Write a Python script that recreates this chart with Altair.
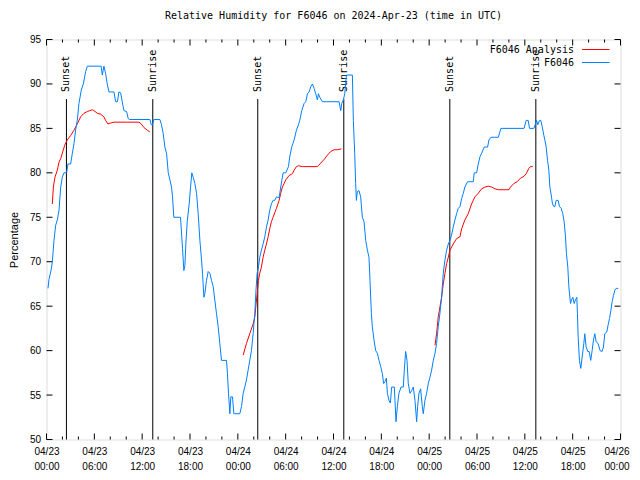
import altair as alt
import pandas as pd

TITLE = "Relative Humidity for F6046 on 2024-Apr-23 (time in UTC)"
FONT = "DejaVu Sans Mono"
RED = "#ff0000"
BLUE = "#0080ff"

# hours since 2024-04-23 00:00 UTC
obs_hours = [0.19, 0.31, 0.61, 0.73, 0.94, 1.15, 1.36, 1.57, 1.78, 1.98, 2.19, 2.53, 2.69, 3.03, 3.24,
             3.45, 3.65, 3.86, 4.07, 4.36, 4.62, 4.91, 5.12, 6.85, 7.0, 7.2, 7.41, 7.62, 7.83, 8.46,
             8.67, 8.9, 9.08, 9.3, 9.5, 9.71, 10.05, 10.25, 10.38, 12.97, 13.14, 13.3, 13.47, 14.22, 14.43,
             14.64, 14.85, 15.06, 15.27, 15.48, 15.68, 15.81, 15.97, 16.81, 16.94, 17.06, 17.23, 17.36, 17.48, 17.65,
             17.9, 18.07, 18.23, 18.4, 18.61, 18.82, 19.03, 19.24, 19.45, 19.57, 19.74, 19.86, 20.07, 20.28, 20.49,
             20.7, 20.91, 21.11, 21.32, 21.53, 21.74, 21.95, 22.58, 22.7, 22.83, 23.0, 23.12, 23.33, 23.5, 24.25,
             24.46, 24.67, 24.87, 25.08, 25.29, 25.5, 25.71, 25.92, 26.13, 26.25, 26.42, 26.59, 26.75, 26.96, 27.17,
             27.38, 27.59, 27.8, 28.0, 28.21, 28.42, 28.63, 28.84, 29.18, 29.38, 29.68, 30.01, 30.35, 30.51, 30.76,
             31.06, 31.35, 31.6, 31.77, 32.02, 32.31, 32.52, 32.73, 32.94, 33.15, 33.36, 33.56, 33.77, 33.98, 34.11,
             34.27, 34.61, 36.7, 36.91, 37.03, 37.24, 37.41, 37.62, 38.37, 38.49, 38.66, 38.78, 38.87, 38.99, 39.2,
             39.41, 39.62, 39.83, 40.04, 40.25, 40.45, 40.58, 40.75, 40.87, 41.08, 41.29, 41.5, 41.71, 41.92, 42.13,
             42.29, 42.45, 42.63, 42.76, 42.96, 43.13, 43.3, 43.63, 43.71, 43.84, 44.01, 44.21, 44.47, 44.76, 44.88,
             45.05, 45.22, 45.38, 45.59, 45.8, 46.01, 46.22, 46.43, 46.55, 46.72, 46.93, 47.14, 47.26, 47.47, 47.68,
             47.89, 48.1, 48.31, 48.52, 48.73, 48.93, 49.14, 49.35, 49.56, 49.77, 49.98, 50.19, 50.4, 50.61, 50.81,
             51.02, 51.23, 51.44, 51.65, 51.86, 52.07, 52.28, 52.48, 52.82, 53.53, 53.65, 53.95, 54.16, 54.37, 54.58,
             54.91, 55.33, 55.5, 55.75, 56.67, 57.0, 59.9, 60.17, 60.42, 60.59, 61.13, 61.34, 61.47, 61.63, 61.84,
             62.0, 62.18, 62.39, 62.51, 62.68, 62.85, 63.01, 63.14, 63.31, 63.47, 63.64, 63.76, 63.93, 64.18, 64.35,
             64.56, 64.76, 64.93, 65.1, 65.22, 65.39, 65.52, 65.73, 65.85, 66.02, 66.19, 66.35, 66.52, 66.6, 66.69,
             66.85, 67.02, 67.19, 67.4, 67.52, 67.69, 67.9, 68.07, 68.27, 68.44, 68.61, 68.78, 68.94, 69.19, 69.44,
             69.69, 69.86, 70.03, 70.28, 70.45, 70.62, 70.79, 70.95, 71.12, 71.29, 71.46, 71.71]
obs_rh = [67, 68, 69.2, 70, 72.4, 74.1, 74.7, 75.8, 78.4, 79.5, 80, 80, 81, 81, 82.2,
          83.3, 84.8, 85.9, 87.8, 89.3, 90, 91.4, 92, 92, 91, 92, 91.2, 90, 89.1, 89.1,
          88, 88, 89.1, 89, 88, 87, 86.9, 86.1, 86, 86, 85.4, 85.4, 86, 86, 85.4,
          84.4, 82.9, 82.2, 80, 79.2, 78.4, 77.3, 75, 75, 73.2, 71.5, 69, 69.6, 72, 74.5,
          76.5, 78.4, 80, 79.5, 78.8, 77.7, 75.4, 72.4, 70.2, 68.7, 66, 66.4, 67.9, 68.9, 68.7,
          67.9, 67.2, 65.7, 64.2, 62.7, 60.8, 58.9, 58.9, 57.4, 55.2, 52.9, 54.8, 54.8, 52.9, 52.9,
          53.7, 55.2, 55.9, 56.7, 57.8, 58.9, 60, 61.9, 64.2, 66.4, 68.7, 69.4, 70.5, 71.3, 72,
          72.8, 73.9, 74.7, 75.8, 76.5, 76.9, 76.9, 77.3, 77.2, 78.4, 80, 80, 80.7, 81.8, 82.9,
          83.7, 84.8, 85.4, 85.9, 87.0, 87.8, 88, 88.9, 89.1, 89.7, 90, 89.5, 88.9, 88.2, 88.9,
          88.5, 88, 88, 87.0, 87.8, 88.2, 88.9, 91, 91, 85.9, 82.2, 78.8, 76.9, 77.9, 78,
          77.3, 75, 74.5, 72.4, 71.3, 70.5, 67.9, 64.2, 62.7, 61.2, 60, 59.7, 58.9, 58.2, 57.4,
          56.3, 56.5, 56.9, 55.2, 54.4, 54.1, 55.9, 55.9, 54.4, 52, 53.7, 55.2, 55.9, 55.9, 57.8,
          59.9, 58.9, 56.3, 55.2, 55.5, 55.9, 54.4, 52, 53.7, 55.2, 55.7, 53.7, 52.9, 54.4, 55.2,
          56.3, 57.0, 57.8, 58.9, 59.7, 60.8, 62.7, 64.2, 66, 68.7, 70.2, 71.3, 72, 72.4, 73,
          73.9, 74.7, 75.4, 76, 76.2, 77.1, 77.7, 78.4, 79.0, 79.0, 80, 80, 81, 81.8, 82.2,
          82.9, 82.9, 83.7, 84, 84, 85, 85, 85.9, 85.9, 85, 85, 85.5, 85.9, 85.4, 85.9,
          85.9, 85.2, 84.2, 83.7, 82.9, 81.4, 80.3, 78.4, 77.5, 76.5, 76.2, 76.2, 76.9, 76.9, 76.2,
          76, 75.4, 74.5, 72.8, 70.9, 69.4, 67.2, 65.3, 65.7, 66, 65.3, 65.7, 66, 64.2, 61.5,
          58.9, 58, 59.3, 60.8, 61.9, 60.4, 59.9, 59.9, 58.9, 60, 61.2, 61.9, 61, 60.8, 60,
          59.9, 60.4, 61.9, 62.1, 62.9, 63.6, 64.5, 65.5, 66.2, 66.8, 67, 67]

# analysis runs (one per day)
ana_hours_d1 = [0.73, 0.86, 1.06, 1.36, 1.57, 1.78, 1.98, 2.28, 2.61, 3.03, 3.45, 3.86, 4.28, 4.7, 5.12,
                5.45, 5.74, 5.95, 6.37, 6.79, 7.2, 7.41, 7.71, 8.04, 8.46, 10.13, 11.59, 11.89, 12.22, 12.64, 12.97]
ana_rh_d1 = [76.5, 78.4, 79.5, 80.3, 81.2, 81.6, 82.2, 83.1, 83.7, 84.2, 84.8, 85.5, 86.3, 86.7, 86.9,
             87.0, 87.1, 87.0, 86.7, 86.6, 86.3, 85.9, 85.5, 85.6, 85.7, 85.7, 85.7, 85.5, 85.1, 84.8, 84.6]
ana_hours_d2 = [24.67, 25.08, 25.5, 25.92, 26.13, 26.25, 26.42, 26.59, 26.75, 26.96, 27.17, 27.38, 27.59, 27.8,
                28.0, 28.21, 28.42, 28.63, 28.84, 29.18, 29.38, 29.59, 30.01, 30.43, 30.85, 31.06, 31.35, 31.6,
                32.1, 32.94, 33.98, 34.4, 34.82, 35.24, 35.65, 36.07, 36.49, 36.99]
ana_rh_d2 = [59.5, 60.8, 61.9, 63.0, 63.8, 64.9, 66.4, 67.9, 68.7, 69.4, 70.5, 71.3, 72.0, 72.8,
             73.7, 74.5, 75.0, 75.5, 76.0, 76.9, 77.7, 78.4, 79.2, 79.7, 79.9, 80.3, 80.7, 80.8,
             80.7, 80.7, 80.7, 81.1, 81.5, 82.0, 82.4, 82.6, 82.6, 82.7]
ana_hours_d3 = [48.73, 48.93, 49.14, 49.35, 49.56, 49.77, 49.98, 50.19, 50.4, 50.61, 51.02, 51.44, 51.86,
                52.07, 52.48, 52.9, 53.32, 53.74, 54.16, 54.58, 54.99, 55.41, 55.83, 56.25, 56.67, 57.5,
                58.0, 58.2, 58.62, 59.04, 59.46, 59.88, 60.17, 60.5, 60.71, 61.0]
ana_rh_d3 = [60.6, 61.9, 63.8, 64.9, 66.0, 67.5, 68.7, 69.8, 70.5, 71.3, 72.0, 72.6, 72.8,
             73.7, 74.7, 75.4, 76.5, 77.3, 77.7, 78.2, 78.4, 78.5, 78.4, 78.2, 78.1, 78.1,
             78.1, 78.4, 78.8, 79.0, 79.4, 79.6, 79.9, 80.5, 80.7, 80.7]

sun_hours = [2.5, 13.33, 26.5, 37.29, 50.59, 61.38]
sun_labels = ["Sunset", "Sunrise", "Sunset", "Sunrise", "Sunset", "Sunrise"]

major_ticks = list(range(0, 73, 6))
minor_ticks = [h for h in range(0, 73, 2) if h % 6]
rh_ticks = list(range(50, 96, 5))

legend_labels = ["F6046 Analysis", "F6046"]
legend_colors = [RED, BLUE]

W, H = 574, 400

obs_df = pd.DataFrame({"hour": obs_hours, "rh": obs_rh})
ana_df = pd.concat([
    pd.DataFrame({"hour": ana_hours_d1, "rh": ana_rh_d1, "run": "d1"}),
    pd.DataFrame({"hour": ana_hours_d2, "rh": ana_rh_d2, "run": "d2"}),
    pd.DataFrame({"hour": ana_hours_d3, "rh": ana_rh_d3, "run": "d3"}),
])
sun_df = pd.DataFrame({"hour": sun_hours, "label": sun_labels})
major_df = pd.DataFrame({"hour": major_ticks})
minor_df = pd.DataFrame({"hour": minor_ticks})
rh_df = pd.DataFrame({"rh": rh_ticks})

xs = alt.Scale(domain=[0, 72], nice=False, zero=False)
ys = alt.Scale(domain=[50, 95], nice=False, zero=False)

AX = alt.Axis(
    values=major_ticks,
    labelExpr="['04/' + (23 + floor(datum.value / 24)), ((datum.value % 24) < 10 ? '0' : '') + (datum.value % 24) + ':00']",
    ticks=False, domain=False, grid=False, labelFlush=False, labelOverlap=False,
    labelPadding=7, labelLineHeight=15, labelBaseline="top", title=None,
    labelOffset={"condition": {"test": "datum.value == 72", "value": -4}, "value": 0},
)
AY = alt.Axis(
    values=rh_ticks, ticks=False, domain=False, grid=False, labelPadding=6,
    title="Percentage", titlePadding=9.5, titleFontWeight="normal",
)

X = alt.X("hour:Q", scale=xs, axis=AX)
Y = alt.Y("rh:Q", scale=ys, axis=AY)

layers = []

# tick marks (inward, mirrored)
layers.append(alt.Chart(major_df).mark_rule(color="black").encode(x=X, y=alt.value(H), y2=alt.value(H - 6)))
layers.append(alt.Chart(major_df).mark_rule(color="black").encode(x=X, y=alt.value(0), y2=alt.value(6)))
layers.append(alt.Chart(minor_df).mark_rule(color="black").encode(x=X, y=alt.value(H), y2=alt.value(H - 3)))
layers.append(alt.Chart(minor_df).mark_rule(color="black").encode(x=X, y=alt.value(0), y2=alt.value(3)))
layers.append(alt.Chart(rh_df).mark_rule(color="black").encode(y=Y, x=alt.value(0), x2=alt.value(6)))
layers.append(alt.Chart(rh_df).mark_rule(color="black").encode(y=Y, x=alt.value(W), x2=alt.value(W - 6)))

# sunrise / sunset markers
layers.append(alt.Chart(sun_df).mark_rule(color="black", strokeWidth=1).encode(
    x=X, y=alt.datum(50), y2=alt.datum(88.3)))
layers.append(alt.Chart(sun_df).mark_text(
    angle=270, align="left", baseline="middle", font=FONT, fontSize=10, color="black"
).encode(x=X, y=alt.datum(89.1), text="label:N"))

# series
layers.append(alt.Chart(ana_df).mark_line(color=RED, strokeWidth=1).encode(x=X, y=Y, detail="run:N"))
layers.append(alt.Chart(obs_df).mark_line(color=BLUE, strokeWidth=1).encode(x=X, y=Y))

# manual gnuplot-style legend (label left, sample on right)
for i, (lab, col) in enumerate(zip(legend_labels, legend_colors)):
    one = pd.DataFrame({"label": [lab]})
    layers.append(alt.Chart(one).mark_text(
        align="right", baseline="middle", font=FONT, fontSize=10, color="black"
    ).encode(text="label:N", x=alt.value(527.5), y=alt.value(10.5 + 13 * i)))
    layers.append(alt.Chart(one).mark_rule(color=col, strokeWidth=1).encode(
        x=alt.value(535.5), x2=alt.value(563), y=alt.value(10 + 13 * i)))

chart = alt.layer(*layers).properties(
    width=W, height=H,
    title=alt.TitleParams(TITLE, font=FONT, fontSize=10, fontWeight="normal", anchor="middle",
                          frame="group", offset=14, color="black"),
    padding={"left": 38.5, "top": 31.5, "right": 11.5, "bottom": 32},
    autosize=alt.AutoSizeParams(type="none"),
).configure_view(stroke="black", strokeWidth=1).configure_axis(
    labelFont=FONT, labelFontSize=10, labelColor="black",
    titleFont=FONT, titleFontSize=10, titleFontWeight="normal", titleColor="black",
).configure(background="white")

chart.save("out.html", embed_options={"renderer": "svg", "actions": False})
